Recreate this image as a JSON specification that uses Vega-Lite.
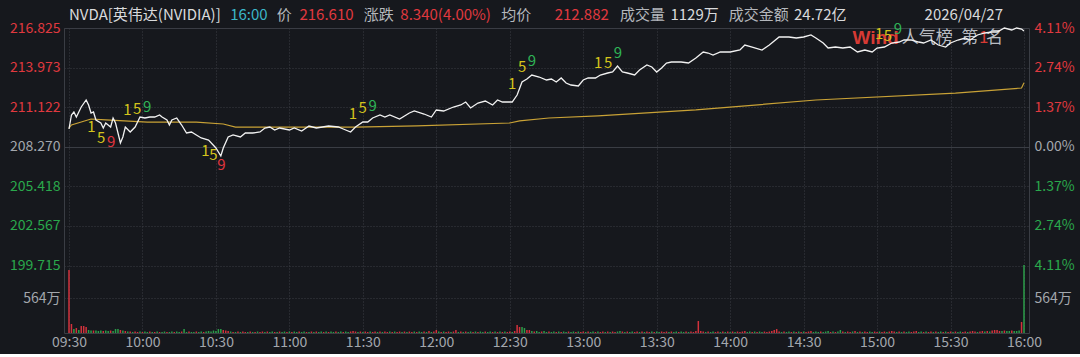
{
"$schema": "https://vega.github.io/schema/vega-lite/v6.json",
"width": 965,
"height": 305,
"padding": {"left": 9, "top": 8, "right": 5, "bottom": 5},
"background": "#16181d",
"config": {
  "view": {"stroke": "#3a3d44", "strokeWidth": 1},
  "axis": {"domain": false, "ticks": false, "labelFont": "Noto Sans CJK SC", "title": null},
  "text": {"font": "Noto Sans CJK SC"}
},
"encoding": {
  "x": {"field": "t", "type": "temporal",
    "scale": {"domain": [{"year": 2026, "month": 4, "date": 27, "hours": 9, "minutes": 30}, {"year": 2026, "month": 4, "date": 27, "hours": 16, "minutes": 0}]},
    "axis": {"format": "%H:%M", "tickCount": 13, "grid": true, "gridDash": [1, 2], "gridColor": "#3a3d44", "labelColor": "#a3a7ad", "labelFontSize": 14, "labelPadding": 2, "labelFlush": false, "labelOverlap": false}}
},
"layer": [
  {
    "data": {"values": [
{"t":"2026-04-27T09:30","v":1015,"d":"u"},{"t":"2026-04-27T09:31","v":145,"d":"u"},{"t":"2026-04-27T09:32","v":64,"d":"d"},{"t":"2026-04-27T09:33","v":80,"d":"u"},{"t":"2026-04-27T09:34","v":48,"d":"d"},{"t":"2026-04-27T09:35","v":113,"d":"u"},{"t":"2026-04-27T09:36","v":113,"d":"u"},{"t":"2026-04-27T09:37","v":97,"d":"u"},{"t":"2026-04-27T09:38","v":48,"d":"d"},{"t":"2026-04-27T09:39","v":40,"d":"d"},
{"t":"2026-04-27T09:40","v":40,"d":"u"},{"t":"2026-04-27T09:41","v":40,"d":"d"},{"t":"2026-04-27T09:42","v":32,"d":"d"},{"t":"2026-04-27T09:43","v":40,"d":"d"},{"t":"2026-04-27T09:44","v":32,"d":"u"},{"t":"2026-04-27T09:45","v":40,"d":"d"},{"t":"2026-04-27T09:46","v":32,"d":"d"},{"t":"2026-04-27T09:47","v":40,"d":"u"},{"t":"2026-04-27T09:48","v":32,"d":"d"},{"t":"2026-04-27T09:49","v":64,"d":"d"},
{"t":"2026-04-27T09:50","v":64,"d":"d"},{"t":"2026-04-27T09:51","v":48,"d":"u"},{"t":"2026-04-27T09:52","v":40,"d":"d"},{"t":"2026-04-27T09:53","v":32,"d":"u"},{"t":"2026-04-27T09:54","v":24,"d":"d"},{"t":"2026-04-27T09:55","v":24,"d":"u"},{"t":"2026-04-27T09:56","v":16,"d":"d"},{"t":"2026-04-27T09:57","v":24,"d":"u"},{"t":"2026-04-27T09:58","v":16,"d":"u"},{"t":"2026-04-27T09:59","v":24,"d":"d"},
{"t":"2026-04-27T10:00","v":16,"d":"u"},{"t":"2026-04-27T10:01","v":24,"d":"d"},{"t":"2026-04-27T10:02","v":16,"d":"d"},{"t":"2026-04-27T10:03","v":24,"d":"u"},{"t":"2026-04-27T10:04","v":16,"d":"d"},{"t":"2026-04-27T10:05","v":16,"d":"u"},{"t":"2026-04-27T10:06","v":24,"d":"d"},{"t":"2026-04-27T10:07","v":16,"d":"u"},{"t":"2026-04-27T10:08","v":16,"d":"d"},{"t":"2026-04-27T10:09","v":24,"d":"d"},
{"t":"2026-04-27T10:10","v":16,"d":"u"},{"t":"2026-04-27T10:11","v":16,"d":"d"},{"t":"2026-04-27T10:12","v":24,"d":"d"},{"t":"2026-04-27T10:13","v":16,"d":"u"},{"t":"2026-04-27T10:14","v":24,"d":"d"},{"t":"2026-04-27T10:15","v":16,"d":"d"},{"t":"2026-04-27T10:16","v":24,"d":"u"},{"t":"2026-04-27T10:17","v":64,"d":"d"},{"t":"2026-04-27T10:18","v":16,"d":"d"},{"t":"2026-04-27T10:19","v":24,"d":"u"},
{"t":"2026-04-27T10:20","v":16,"d":"d"},{"t":"2026-04-27T10:21","v":16,"d":"d"},{"t":"2026-04-27T10:22","v":24,"d":"u"},{"t":"2026-04-27T10:23","v":16,"d":"d"},{"t":"2026-04-27T10:24","v":24,"d":"d"},{"t":"2026-04-27T10:25","v":16,"d":"u"},{"t":"2026-04-27T10:26","v":24,"d":"d"},{"t":"2026-04-27T10:27","v":32,"d":"d"},{"t":"2026-04-27T10:28","v":24,"d":"d"},{"t":"2026-04-27T10:29","v":40,"d":"d"},
{"t":"2026-04-27T10:30","v":32,"d":"d"},{"t":"2026-04-27T10:31","v":64,"d":"d"},{"t":"2026-04-27T10:32","v":64,"d":"d"},{"t":"2026-04-27T10:33","v":48,"d":"u"},{"t":"2026-04-27T10:34","v":40,"d":"u"},{"t":"2026-04-27T10:35","v":32,"d":"u"},{"t":"2026-04-27T10:36","v":24,"d":"d"},{"t":"2026-04-27T10:37","v":16,"d":"u"},{"t":"2026-04-27T10:38","v":16,"d":"d"},{"t":"2026-04-27T10:39","v":24,"d":"u"},
{"t":"2026-04-27T10:40","v":16,"d":"d"},{"t":"2026-04-27T10:41","v":24,"d":"u"},{"t":"2026-04-27T10:42","v":16,"d":"u"},{"t":"2026-04-27T10:43","v":16,"d":"d"},{"t":"2026-04-27T10:44","v":24,"d":"u"},{"t":"2026-04-27T10:45","v":16,"d":"d"},{"t":"2026-04-27T10:46","v":16,"d":"u"},{"t":"2026-04-27T10:47","v":24,"d":"d"},{"t":"2026-04-27T10:48","v":16,"d":"u"},{"t":"2026-04-27T10:49","v":24,"d":"u"},
{"t":"2026-04-27T10:50","v":16,"d":"d"},{"t":"2026-04-27T10:51","v":24,"d":"u"},{"t":"2026-04-27T10:52","v":16,"d":"d"},{"t":"2026-04-27T10:53","v":24,"d":"d"},{"t":"2026-04-27T10:54","v":16,"d":"u"},{"t":"2026-04-27T10:55","v":16,"d":"d"},{"t":"2026-04-27T10:56","v":24,"d":"u"},{"t":"2026-04-27T10:57","v":16,"d":"d"},{"t":"2026-04-27T10:58","v":24,"d":"d"},{"t":"2026-04-27T10:59","v":16,"d":"u"},
{"t":"2026-04-27T11:00","v":24,"d":"d"},{"t":"2026-04-27T11:01","v":16,"d":"u"},{"t":"2026-04-27T11:02","v":24,"d":"d"},{"t":"2026-04-27T11:03","v":16,"d":"d"},{"t":"2026-04-27T11:04","v":24,"d":"u"},{"t":"2026-04-27T11:05","v":16,"d":"d"},{"t":"2026-04-27T11:06","v":24,"d":"d"},{"t":"2026-04-27T11:07","v":16,"d":"u"},{"t":"2026-04-27T11:08","v":16,"d":"d"},{"t":"2026-04-27T11:09","v":24,"d":"u"},
{"t":"2026-04-27T11:10","v":16,"d":"d"},{"t":"2026-04-27T11:11","v":24,"d":"u"},{"t":"2026-04-27T11:12","v":16,"d":"d"},{"t":"2026-04-27T11:13","v":24,"d":"d"},{"t":"2026-04-27T11:14","v":16,"d":"u"},{"t":"2026-04-27T11:15","v":24,"d":"d"},{"t":"2026-04-27T11:16","v":16,"d":"u"},{"t":"2026-04-27T11:17","v":24,"d":"d"},{"t":"2026-04-27T11:18","v":16,"d":"d"},{"t":"2026-04-27T11:19","v":24,"d":"u"},
{"t":"2026-04-27T11:20","v":16,"d":"d"},{"t":"2026-04-27T11:21","v":24,"d":"d"},{"t":"2026-04-27T11:22","v":16,"d":"u"},{"t":"2026-04-27T11:23","v":24,"d":"d"},{"t":"2026-04-27T11:24","v":16,"d":"d"},{"t":"2026-04-27T11:25","v":24,"d":"u"},{"t":"2026-04-27T11:26","v":32,"d":"u"},{"t":"2026-04-27T11:27","v":24,"d":"u"},{"t":"2026-04-27T11:28","v":16,"d":"d"},{"t":"2026-04-27T11:29","v":24,"d":"u"},
{"t":"2026-04-27T11:30","v":16,"d":"d"},{"t":"2026-04-27T11:31","v":24,"d":"u"},{"t":"2026-04-27T11:32","v":16,"d":"u"},{"t":"2026-04-27T11:33","v":24,"d":"d"},{"t":"2026-04-27T11:34","v":16,"d":"u"},{"t":"2026-04-27T11:35","v":24,"d":"u"},{"t":"2026-04-27T11:36","v":16,"d":"d"},{"t":"2026-04-27T11:37","v":24,"d":"u"},{"t":"2026-04-27T11:38","v":16,"d":"d"},{"t":"2026-04-27T11:39","v":24,"d":"u"},
{"t":"2026-04-27T11:40","v":16,"d":"u"},{"t":"2026-04-27T11:41","v":24,"d":"d"},{"t":"2026-04-27T11:42","v":16,"d":"u"},{"t":"2026-04-27T11:43","v":24,"d":"d"},{"t":"2026-04-27T11:44","v":16,"d":"u"},{"t":"2026-04-27T11:45","v":24,"d":"u"},{"t":"2026-04-27T11:46","v":16,"d":"d"},{"t":"2026-04-27T11:47","v":24,"d":"u"},{"t":"2026-04-27T11:48","v":16,"d":"d"},{"t":"2026-04-27T11:49","v":24,"d":"u"},
{"t":"2026-04-27T11:50","v":16,"d":"u"},{"t":"2026-04-27T11:51","v":24,"d":"d"},{"t":"2026-04-27T11:52","v":16,"d":"u"},{"t":"2026-04-27T11:53","v":24,"d":"d"},{"t":"2026-04-27T11:54","v":16,"d":"d"},{"t":"2026-04-27T11:55","v":24,"d":"u"},{"t":"2026-04-27T11:56","v":16,"d":"d"},{"t":"2026-04-27T11:57","v":32,"d":"u"},{"t":"2026-04-27T11:58","v":16,"d":"d"},{"t":"2026-04-27T11:59","v":24,"d":"u"},
{"t":"2026-04-27T12:00","v":48,"d":"u"},{"t":"2026-04-27T12:01","v":24,"d":"d"},{"t":"2026-04-27T12:02","v":16,"d":"u"},{"t":"2026-04-27T12:03","v":24,"d":"d"},{"t":"2026-04-27T12:04","v":16,"d":"u"},{"t":"2026-04-27T12:05","v":24,"d":"u"},{"t":"2026-04-27T12:06","v":16,"d":"d"},{"t":"2026-04-27T12:07","v":24,"d":"u"},{"t":"2026-04-27T12:08","v":48,"d":"u"},{"t":"2026-04-27T12:09","v":16,"d":"d"},
{"t":"2026-04-27T12:10","v":24,"d":"u"},{"t":"2026-04-27T12:11","v":16,"d":"d"},{"t":"2026-04-27T12:12","v":24,"d":"u"},{"t":"2026-04-27T12:13","v":16,"d":"d"},{"t":"2026-04-27T12:14","v":24,"d":"d"},{"t":"2026-04-27T12:15","v":16,"d":"u"},{"t":"2026-04-27T12:16","v":24,"d":"d"},{"t":"2026-04-27T12:17","v":16,"d":"u"},{"t":"2026-04-27T12:18","v":24,"d":"d"},{"t":"2026-04-27T12:19","v":16,"d":"d"},
{"t":"2026-04-27T12:20","v":24,"d":"u"},{"t":"2026-04-27T12:21","v":16,"d":"d"},{"t":"2026-04-27T12:22","v":24,"d":"d"},{"t":"2026-04-27T12:23","v":16,"d":"u"},{"t":"2026-04-27T12:24","v":24,"d":"d"},{"t":"2026-04-27T12:25","v":16,"d":"u"},{"t":"2026-04-27T12:26","v":24,"d":"d"},{"t":"2026-04-27T12:27","v":16,"d":"u"},{"t":"2026-04-27T12:28","v":24,"d":"d"},{"t":"2026-04-27T12:29","v":16,"d":"u"},
{"t":"2026-04-27T12:30","v":24,"d":"u"},{"t":"2026-04-27T12:31","v":16,"d":"d"},{"t":"2026-04-27T12:32","v":32,"d":"u"},{"t":"2026-04-27T12:33","v":129,"d":"u"},{"t":"2026-04-27T12:34","v":97,"d":"u"},{"t":"2026-04-27T12:35","v":97,"d":"d"},{"t":"2026-04-27T12:36","v":80,"d":"d"},{"t":"2026-04-27T12:37","v":48,"d":"u"},{"t":"2026-04-27T12:38","v":48,"d":"u"},{"t":"2026-04-27T12:39","v":32,"d":"d"},
{"t":"2026-04-27T12:40","v":24,"d":"u"},{"t":"2026-04-27T12:41","v":32,"d":"d"},{"t":"2026-04-27T12:42","v":16,"d":"d"},{"t":"2026-04-27T12:43","v":24,"d":"u"},{"t":"2026-04-27T12:44","v":32,"d":"d"},{"t":"2026-04-27T12:45","v":16,"d":"d"},{"t":"2026-04-27T12:46","v":24,"d":"u"},{"t":"2026-04-27T12:47","v":16,"d":"d"},{"t":"2026-04-27T12:48","v":24,"d":"d"},{"t":"2026-04-27T12:49","v":16,"d":"u"},
{"t":"2026-04-27T12:50","v":24,"d":"d"},{"t":"2026-04-27T12:51","v":16,"d":"u"},{"t":"2026-04-27T12:52","v":24,"d":"d"},{"t":"2026-04-27T12:53","v":16,"d":"d"},{"t":"2026-04-27T12:54","v":24,"d":"u"},{"t":"2026-04-27T12:55","v":16,"d":"d"},{"t":"2026-04-27T12:56","v":24,"d":"d"},{"t":"2026-04-27T12:57","v":16,"d":"u"},{"t":"2026-04-27T12:58","v":24,"d":"d"},{"t":"2026-04-27T12:59","v":16,"d":"u"},
{"t":"2026-04-27T13:00","v":24,"d":"u"},{"t":"2026-04-27T13:01","v":16,"d":"d"},{"t":"2026-04-27T13:02","v":24,"d":"u"},{"t":"2026-04-27T13:03","v":16,"d":"d"},{"t":"2026-04-27T13:04","v":24,"d":"d"},{"t":"2026-04-27T13:05","v":16,"d":"u"},{"t":"2026-04-27T13:06","v":24,"d":"d"},{"t":"2026-04-27T13:07","v":16,"d":"u"},{"t":"2026-04-27T13:08","v":24,"d":"u"},{"t":"2026-04-27T13:09","v":16,"d":"d"},
{"t":"2026-04-27T13:10","v":24,"d":"u"},{"t":"2026-04-27T13:11","v":16,"d":"d"},{"t":"2026-04-27T13:12","v":24,"d":"u"},{"t":"2026-04-27T13:13","v":16,"d":"u"},{"t":"2026-04-27T13:14","v":24,"d":"d"},{"t":"2026-04-27T13:15","v":32,"d":"d"},{"t":"2026-04-27T13:16","v":24,"d":"u"},{"t":"2026-04-27T13:17","v":16,"d":"d"},{"t":"2026-04-27T13:18","v":24,"d":"u"},{"t":"2026-04-27T13:19","v":16,"d":"d"},
{"t":"2026-04-27T13:20","v":24,"d":"d"},{"t":"2026-04-27T13:21","v":16,"d":"u"},{"t":"2026-04-27T13:22","v":24,"d":"u"},{"t":"2026-04-27T13:23","v":16,"d":"d"},{"t":"2026-04-27T13:24","v":24,"d":"u"},{"t":"2026-04-27T13:25","v":16,"d":"d"},{"t":"2026-04-27T13:26","v":24,"d":"u"},{"t":"2026-04-27T13:27","v":16,"d":"u"},{"t":"2026-04-27T13:28","v":24,"d":"d"},{"t":"2026-04-27T13:29","v":16,"d":"u"},
{"t":"2026-04-27T13:30","v":24,"d":"d"},{"t":"2026-04-27T13:31","v":16,"d":"d"},{"t":"2026-04-27T13:32","v":24,"d":"u"},{"t":"2026-04-27T13:33","v":16,"d":"u"},{"t":"2026-04-27T13:34","v":24,"d":"u"},{"t":"2026-04-27T13:35","v":16,"d":"d"},{"t":"2026-04-27T13:36","v":24,"d":"u"},{"t":"2026-04-27T13:37","v":16,"d":"d"},{"t":"2026-04-27T13:38","v":24,"d":"d"},{"t":"2026-04-27T13:39","v":16,"d":"u"},
{"t":"2026-04-27T13:40","v":24,"d":"d"},{"t":"2026-04-27T13:41","v":16,"d":"d"},{"t":"2026-04-27T13:42","v":24,"d":"u"},{"t":"2026-04-27T13:43","v":16,"d":"d"},{"t":"2026-04-27T13:44","v":24,"d":"u"},{"t":"2026-04-27T13:45","v":16,"d":"u"},{"t":"2026-04-27T13:46","v":32,"d":"u"},{"t":"2026-04-27T13:47","v":193,"d":"u"},{"t":"2026-04-27T13:48","v":32,"d":"u"},{"t":"2026-04-27T13:49","v":24,"d":"u"},
{"t":"2026-04-27T13:50","v":16,"d":"d"},{"t":"2026-04-27T13:51","v":24,"d":"u"},{"t":"2026-04-27T13:52","v":16,"d":"d"},{"t":"2026-04-27T13:53","v":24,"d":"d"},{"t":"2026-04-27T13:54","v":16,"d":"u"},{"t":"2026-04-27T13:55","v":24,"d":"u"},{"t":"2026-04-27T13:56","v":16,"d":"d"},{"t":"2026-04-27T13:57","v":24,"d":"u"},{"t":"2026-04-27T13:58","v":16,"d":"d"},{"t":"2026-04-27T13:59","v":24,"d":"u"},
{"t":"2026-04-27T14:00","v":16,"d":"d"},{"t":"2026-04-27T14:01","v":24,"d":"u"},{"t":"2026-04-27T14:02","v":16,"d":"d"},{"t":"2026-04-27T14:03","v":24,"d":"u"},{"t":"2026-04-27T14:04","v":16,"d":"u"},{"t":"2026-04-27T14:05","v":24,"d":"u"},{"t":"2026-04-27T14:06","v":32,"d":"u"},{"t":"2026-04-27T14:07","v":16,"d":"d"},{"t":"2026-04-27T14:08","v":24,"d":"d"},{"t":"2026-04-27T14:09","v":16,"d":"u"},
{"t":"2026-04-27T14:10","v":24,"d":"d"},{"t":"2026-04-27T14:11","v":16,"d":"u"},{"t":"2026-04-27T14:12","v":24,"d":"d"},{"t":"2026-04-27T14:13","v":16,"d":"d"},{"t":"2026-04-27T14:14","v":24,"d":"u"},{"t":"2026-04-27T14:15","v":16,"d":"u"},{"t":"2026-04-27T14:16","v":24,"d":"u"},{"t":"2026-04-27T14:17","v":32,"d":"u"},{"t":"2026-04-27T14:18","v":48,"d":"u"},{"t":"2026-04-27T14:19","v":64,"d":"u"},
{"t":"2026-04-27T14:20","v":24,"d":"u"},{"t":"2026-04-27T14:21","v":16,"d":"d"},{"t":"2026-04-27T14:22","v":24,"d":"u"},{"t":"2026-04-27T14:23","v":16,"d":"d"},{"t":"2026-04-27T14:24","v":24,"d":"d"},{"t":"2026-04-27T14:25","v":16,"d":"u"},{"t":"2026-04-27T14:26","v":24,"d":"d"},{"t":"2026-04-27T14:27","v":16,"d":"u"},{"t":"2026-04-27T14:28","v":24,"d":"d"},{"t":"2026-04-27T14:29","v":16,"d":"u"},
{"t":"2026-04-27T14:30","v":24,"d":"d"},{"t":"2026-04-27T14:31","v":16,"d":"u"},{"t":"2026-04-27T14:32","v":24,"d":"u"},{"t":"2026-04-27T14:33","v":32,"d":"u"},{"t":"2026-04-27T14:34","v":16,"d":"d"},{"t":"2026-04-27T14:35","v":24,"d":"d"},{"t":"2026-04-27T14:36","v":16,"d":"d"},{"t":"2026-04-27T14:37","v":24,"d":"u"},{"t":"2026-04-27T14:38","v":16,"d":"d"},{"t":"2026-04-27T14:39","v":24,"d":"d"},
{"t":"2026-04-27T14:40","v":32,"d":"d"},{"t":"2026-04-27T14:41","v":16,"d":"u"},{"t":"2026-04-27T14:42","v":24,"d":"d"},{"t":"2026-04-27T14:43","v":16,"d":"u"},{"t":"2026-04-27T14:44","v":24,"d":"d"},{"t":"2026-04-27T14:45","v":48,"d":"d"},{"t":"2026-04-27T14:46","v":24,"d":"u"},{"t":"2026-04-27T14:47","v":16,"d":"d"},{"t":"2026-04-27T14:48","v":24,"d":"u"},{"t":"2026-04-27T14:49","v":16,"d":"u"},
{"t":"2026-04-27T14:50","v":24,"d":"d"},{"t":"2026-04-27T14:51","v":32,"d":"u"},{"t":"2026-04-27T14:52","v":16,"d":"d"},{"t":"2026-04-27T14:53","v":24,"d":"u"},{"t":"2026-04-27T14:54","v":16,"d":"d"},{"t":"2026-04-27T14:55","v":24,"d":"u"},{"t":"2026-04-27T14:56","v":16,"d":"u"},{"t":"2026-04-27T14:57","v":24,"d":"d"},{"t":"2026-04-27T14:58","v":16,"d":"d"},{"t":"2026-04-27T14:59","v":24,"d":"u"},
{"t":"2026-04-27T15:00","v":16,"d":"u"},{"t":"2026-04-27T15:01","v":24,"d":"d"},{"t":"2026-04-27T15:02","v":16,"d":"u"},{"t":"2026-04-27T15:03","v":24,"d":"u"},{"t":"2026-04-27T15:04","v":16,"d":"d"},{"t":"2026-04-27T15:05","v":24,"d":"u"},{"t":"2026-04-27T15:06","v":32,"d":"u"},{"t":"2026-04-27T15:07","v":24,"d":"u"},{"t":"2026-04-27T15:08","v":16,"d":"d"},{"t":"2026-04-27T15:09","v":24,"d":"u"},
{"t":"2026-04-27T15:10","v":16,"d":"d"},{"t":"2026-04-27T15:11","v":24,"d":"u"},{"t":"2026-04-27T15:12","v":16,"d":"d"},{"t":"2026-04-27T15:13","v":24,"d":"d"},{"t":"2026-04-27T15:14","v":16,"d":"u"},{"t":"2026-04-27T15:15","v":24,"d":"u"},{"t":"2026-04-27T15:16","v":32,"d":"u"},{"t":"2026-04-27T15:17","v":16,"d":"d"},{"t":"2026-04-27T15:18","v":24,"d":"d"},{"t":"2026-04-27T15:19","v":16,"d":"u"},
{"t":"2026-04-27T15:20","v":24,"d":"d"},{"t":"2026-04-27T15:21","v":16,"d":"u"},{"t":"2026-04-27T15:22","v":24,"d":"u"},{"t":"2026-04-27T15:23","v":16,"d":"d"},{"t":"2026-04-27T15:24","v":24,"d":"u"},{"t":"2026-04-27T15:25","v":16,"d":"d"},{"t":"2026-04-27T15:26","v":24,"d":"d"},{"t":"2026-04-27T15:27","v":16,"d":"u"},{"t":"2026-04-27T15:28","v":24,"d":"d"},{"t":"2026-04-27T15:29","v":16,"d":"u"},
{"t":"2026-04-27T15:30","v":24,"d":"u"},{"t":"2026-04-27T15:31","v":16,"d":"d"},{"t":"2026-04-27T15:32","v":24,"d":"u"},{"t":"2026-04-27T15:33","v":16,"d":"d"},{"t":"2026-04-27T15:34","v":24,"d":"d"},{"t":"2026-04-27T15:35","v":16,"d":"u"},{"t":"2026-04-27T15:36","v":24,"d":"u"},{"t":"2026-04-27T15:37","v":16,"d":"d"},{"t":"2026-04-27T15:38","v":24,"d":"u"},{"t":"2026-04-27T15:39","v":32,"d":"u"},
{"t":"2026-04-27T15:40","v":24,"d":"u"},{"t":"2026-04-27T15:41","v":16,"d":"d"},{"t":"2026-04-27T15:42","v":24,"d":"u"},{"t":"2026-04-27T15:43","v":32,"d":"u"},{"t":"2026-04-27T15:44","v":24,"d":"d"},{"t":"2026-04-27T15:45","v":32,"d":"u"},{"t":"2026-04-27T15:46","v":24,"d":"d"},{"t":"2026-04-27T15:47","v":40,"d":"u"},{"t":"2026-04-27T15:48","v":48,"d":"u"},{"t":"2026-04-27T15:49","v":48,"d":"u"},
{"t":"2026-04-27T15:50","v":32,"d":"u"},{"t":"2026-04-27T15:51","v":32,"d":"d"},{"t":"2026-04-27T15:52","v":40,"d":"u"},{"t":"2026-04-27T15:53","v":32,"d":"d"},{"t":"2026-04-27T15:54","v":32,"d":"d"},{"t":"2026-04-27T15:55","v":40,"d":"u"},{"t":"2026-04-27T15:56","v":32,"d":"d"},{"t":"2026-04-27T15:57","v":32,"d":"d"},{"t":"2026-04-27T15:58","v":40,"d":"d"},{"t":"2026-04-27T15:59","v":177,"d":"u"},
{"t":"2026-04-27T16:00","v":1096,"d":"d"}
    ]},
    "mark": {"type": "bar", "width": 1.5},
    "encoding": {
      "y": {"field": "v", "type": "quantitative", "scale": {"domain": [0, 4915], "nice": false, "zero": true}, "axis": null},
      "color": {"field": "d", "type": "nominal", "scale": {"domain": ["u", "d"], "range": ["#d2323c", "#2c9e4a"]}, "legend": null}
    }
  },
  {
    "data": {"values": [
{"t":"2026-04-27T14:49:55","p":216.104,"s":"Wind"}
    ]},
    "mark": {"type": "text", "align": "left", "baseline": "middle", "fontSize": 19, "fontWeight": "bold", "color": "#d63a34", "font": "Liberation Sans"},
    "encoding": {
      "y": {"field": "p", "type": "quantitative", "scale": {"domain": [194.853, 216.825], "nice": false, "zero": false}, "axis": null},
      "text": {"field": "s"}
    }
  },
  {
    "data": {"values": [
{"t":"2026-04-27T15:10:06","p":216.104,"s":"人气榜","c":"g"},{"t":"2026-04-27T15:34:22","p":216.104,"s":"第","c":"g"},{"t":"2026-04-27T15:41:38","p":216.104,"s":"1","c":"r"},{"t":"2026-04-27T15:44:28","p":216.104,"s":"名","c":"g"}
    ]},
    "mark": {"type": "text", "align": "left", "baseline": "middle", "fontSize": 17},
    "encoding": {
      "y": {"field": "p", "type": "quantitative", "scale": {"domain": [194.853, 216.825], "nice": false, "zero": false}, "axis": null},
      "text": {"field": "s"},
      "color": {"field": "c", "type": "nominal", "scale": {"domain": ["r", "g"], "range": ["#d63a34", "#b9bcc2"]}, "legend": null}
    }
  },
  {
    "data": {"values": [
{"t":"2026-04-27T09:30","p":209.62},{"t":"2026-04-27T09:31","p":209.84},{"t":"2026-04-27T09:39","p":210.27},{"t":"2026-04-27T09:45","p":210.20},{"t":"2026-04-27T10:02","p":210.05},{"t":"2026-04-27T10:22","p":210.05},{"t":"2026-04-27T10:33","p":209.91},{"t":"2026-04-27T10:38","p":209.69},{"t":"2026-04-27T11:05","p":209.69},{"t":"2026-04-27T11:27","p":209.69},
{"t":"2026-04-27T11:52","p":209.77},{"t":"2026-04-27T12:30","p":209.98},{"t":"2026-04-27T12:34","p":210.13},{"t":"2026-04-27T12:46","p":210.34},{"t":"2026-04-27T13:06","p":210.49},{"t":"2026-04-27T13:46","p":210.92},{"t":"2026-04-27T14:35","p":211.64},{"t":"2026-04-27T15:32","p":212.14},{"t":"2026-04-27T15:59","p":212.50},{"t":"2026-04-27T16:00","p":212.882}
    ]},
    "mark": {"type": "line", "color": "#c9a236", "strokeWidth": 1.2},
    "encoding": {
      "y": {"field": "p", "type": "quantitative", "scale": {"domain": [194.853, 216.825], "nice": false, "zero": false},
        "axis": {"orient": "right", "values": [216.825, 213.973, 211.122, 208.27, 205.418, 202.567, 199.715, 197.374], "grid": false, "labelFontSize": 14, "labelPadding": 5,
          "labelExpr": "datum.value < 198 ? '564万' : format(abs(datum.value - 208.27) / 208.27 * 100, '.2f') + '%'",
          "labelColor": {"condition": [{"test": "datum.value > 208.3", "value": "#e0393f"}, {"test": "datum.value < 208.2 && datum.value > 199", "value": "#2aa84c"}], "value": "#a3a7ad"}}}
    }
  },
  {
    "data": {"values": [
{"t":"2026-04-27T09:30","p":209.549},{"t":"2026-04-27T09:31","p":210.557},{"t":"2026-04-27T09:32","p":210.774},{"t":"2026-04-27T09:33","p":210.413},{"t":"2026-04-27T09:35","p":211.134},{"t":"2026-04-27T09:37","p":211.638},{"t":"2026-04-27T09:38","p":211.278},{"t":"2026-04-27T09:39","p":210.701},{"t":"2026-04-27T09:40","p":210.774},{"t":"2026-04-27T09:41","p":210.197},
{"t":"2026-04-27T09:43","p":209.981},{"t":"2026-04-27T09:44","p":209.621},{"t":"2026-04-27T09:45","p":209.981},{"t":"2026-04-27T09:47","p":209.693},{"t":"2026-04-27T09:48","p":210.341},{"t":"2026-04-27T09:49","p":209.981},{"t":"2026-04-27T09:51","p":208.540},{"t":"2026-04-27T09:52","p":208.973},{"t":"2026-04-27T09:53","p":209.693},{"t":"2026-04-27T09:55","p":209.333},
{"t":"2026-04-27T09:57","p":209.693},{"t":"2026-04-27T09:59","p":210.413},{"t":"2026-04-27T10:01","p":210.341},{"t":"2026-04-27T10:03","p":210.413},{"t":"2026-04-27T10:05","p":210.413},{"t":"2026-04-27T10:07","p":210.557},{"t":"2026-04-27T10:08","p":210.413},{"t":"2026-04-27T10:10","p":210.197},{"t":"2026-04-27T10:11","p":209.837},{"t":"2026-04-27T10:12","p":210.197},
{"t":"2026-04-27T10:14","p":210.341},{"t":"2026-04-27T10:16","p":209.837},{"t":"2026-04-27T10:18","p":209.261},{"t":"2026-04-27T10:20","p":209.333},{"t":"2026-04-27T10:22","p":209.117},{"t":"2026-04-27T10:24","p":208.901},{"t":"2026-04-27T10:27","p":208.756},{"t":"2026-04-27T10:30","p":208.180},{"t":"2026-04-27T10:32","p":207.604},{"t":"2026-04-27T10:33","p":208.180},
{"t":"2026-04-27T10:35","p":208.973},{"t":"2026-04-27T10:37","p":209.117},{"t":"2026-04-27T10:40","p":208.973},{"t":"2026-04-27T10:42","p":209.261},{"t":"2026-04-27T10:45","p":209.261},{"t":"2026-04-27T10:48","p":209.333},{"t":"2026-04-27T10:50","p":209.621},{"t":"2026-04-27T10:52","p":209.693},{"t":"2026-04-27T10:54","p":209.477},{"t":"2026-04-27T10:56","p":209.621},
{"t":"2026-04-27T11:00","p":209.477},{"t":"2026-04-27T11:02","p":209.621},{"t":"2026-04-27T11:05","p":209.405},{"t":"2026-04-27T11:08","p":209.765},{"t":"2026-04-27T11:11","p":209.621},{"t":"2026-04-27T11:16","p":209.765},{"t":"2026-04-27T11:20","p":209.693},{"t":"2026-04-27T11:22","p":209.549},{"t":"2026-04-27T11:25","p":209.333},{"t":"2026-04-27T11:27","p":209.693},
{"t":"2026-04-27T11:30","p":210.053},{"t":"2026-04-27T11:32","p":210.053},{"t":"2026-04-27T11:34","p":210.341},{"t":"2026-04-27T11:37","p":210.557},{"t":"2026-04-27T11:39","p":210.413},{"t":"2026-04-27T11:41","p":210.557},{"t":"2026-04-27T11:45","p":210.269},{"t":"2026-04-27T11:49","p":210.701},{"t":"2026-04-27T11:51","p":210.846},{"t":"2026-04-27T11:55","p":210.629},
{"t":"2026-04-27T11:58","p":210.413},{"t":"2026-04-27T12:00","p":210.918},{"t":"2026-04-27T12:03","p":210.846},{"t":"2026-04-27T12:07","p":211.134},{"t":"2026-04-27T12:10","p":211.278},{"t":"2026-04-27T12:12","p":211.494},{"t":"2026-04-27T12:14","p":211.062},{"t":"2026-04-27T12:17","p":211.422},{"t":"2026-04-27T12:20","p":211.566},{"t":"2026-04-27T12:23","p":211.278},
{"t":"2026-04-27T12:25","p":211.638},{"t":"2026-04-27T12:27","p":211.494},{"t":"2026-04-27T12:31","p":211.494},{"t":"2026-04-27T12:33","p":211.998},{"t":"2026-04-27T12:35","p":212.935},{"t":"2026-04-27T12:37","p":213.151},{"t":"2026-04-27T12:39","p":213.439},{"t":"2026-04-27T12:42","p":213.295},{"t":"2026-04-27T12:45","p":213.079},{"t":"2026-04-27T12:47","p":213.151},
{"t":"2026-04-27T12:49","p":212.935},{"t":"2026-04-27T12:51","p":213.223},{"t":"2026-04-27T12:53","p":212.863},{"t":"2026-04-27T12:55","p":212.719},{"t":"2026-04-27T12:58","p":212.647},{"t":"2026-04-27T13:00","p":213.079},{"t":"2026-04-27T13:02","p":213.223},{"t":"2026-04-27T13:05","p":213.223},{"t":"2026-04-27T13:07","p":213.439},{"t":"2026-04-27T13:10","p":213.583},
{"t":"2026-04-27T13:12","p":213.655},{"t":"2026-04-27T13:14","p":214.087},{"t":"2026-04-27T13:16","p":213.655},{"t":"2026-04-27T13:18","p":213.583},{"t":"2026-04-27T13:21","p":213.439},{"t":"2026-04-27T13:23","p":213.799},{"t":"2026-04-27T13:26","p":214.159},{"t":"2026-04-27T13:28","p":214.015},{"t":"2026-04-27T13:30","p":213.655},{"t":"2026-04-27T13:32","p":213.943},
{"t":"2026-04-27T13:34","p":214.303},{"t":"2026-04-27T13:36","p":214.376},{"t":"2026-04-27T13:40","p":214.376},{"t":"2026-04-27T13:43","p":214.303},{"t":"2026-04-27T13:46","p":214.664},{"t":"2026-04-27T13:49","p":215.096},{"t":"2026-04-27T13:51","p":215.024},{"t":"2026-04-27T13:53","p":214.880},{"t":"2026-04-27T13:56","p":215.096},{"t":"2026-04-27T14:00","p":215.096},
{"t":"2026-04-27T14:04","p":215.240},{"t":"2026-04-27T14:06","p":215.600},{"t":"2026-04-27T14:09","p":215.456},{"t":"2026-04-27T14:13","p":215.240},{"t":"2026-04-27T14:16","p":215.600},{"t":"2026-04-27T14:20","p":216.177},{"t":"2026-04-27T14:24","p":216.177},{"t":"2026-04-27T14:27","p":216.104},{"t":"2026-04-27T14:30","p":216.177},{"t":"2026-04-27T14:33","p":216.321},
{"t":"2026-04-27T14:35","p":216.104},{"t":"2026-04-27T14:38","p":215.744},{"t":"2026-04-27T14:40","p":215.384},{"t":"2026-04-27T14:43","p":215.456},{"t":"2026-04-27T14:46","p":215.384},{"t":"2026-04-27T14:49","p":215.456},{"t":"2026-04-27T14:52","p":215.096},{"t":"2026-04-27T14:55","p":215.240},{"t":"2026-04-27T14:58","p":215.096},{"t":"2026-04-27T15:00","p":215.384},
{"t":"2026-04-27T15:03","p":215.456},{"t":"2026-04-27T15:06","p":215.744},{"t":"2026-04-27T15:09","p":215.816},{"t":"2026-04-27T15:11","p":215.960},{"t":"2026-04-27T15:14","p":215.960},{"t":"2026-04-27T15:17","p":215.816},{"t":"2026-04-27T15:19","p":215.744},{"t":"2026-04-27T15:22","p":215.960},{"t":"2026-04-27T15:25","p":215.600},{"t":"2026-04-27T15:28","p":215.456},
{"t":"2026-04-27T15:30","p":215.744},{"t":"2026-04-27T15:33","p":215.960},{"t":"2026-04-27T15:36","p":216.104},{"t":"2026-04-27T15:38","p":215.960},{"t":"2026-04-27T15:41","p":216.321},{"t":"2026-04-27T15:44","p":216.465},{"t":"2026-04-27T15:47","p":216.537},{"t":"2026-04-27T15:49","p":216.537},{"t":"2026-04-27T15:52","p":216.825},{"t":"2026-04-27T15:55","p":216.681},
{"t":"2026-04-27T15:57","p":216.825},{"t":"2026-04-27T15:59","p":216.753},{"t":"2026-04-27T16:00","p":216.610}
    ]},
    "mark": {"type": "line", "color": "#f2f2f2", "strokeWidth": 1.3},
    "encoding": {
      "y": {"field": "p", "type": "quantitative", "scale": {"domain": [194.853, 216.825], "nice": false, "zero": false},
        "axis": {"orient": "left", "values": [216.825, 213.973, 211.122, 208.27, 205.418, 202.567, 199.715, 197.374], "grid": true, "gridColor": "#3a3d44",
          "gridDash": {"condition": {"test": "abs(datum.value - 208.27) < 0.01", "value": []}, "value": [1, 2]},
          "labelFontSize": 14, "labelPadding": 4,
          "labelExpr": "datum.value < 198 ? '564万' : format(datum.value, '.3f')",
          "labelColor": {"condition": [{"test": "datum.value > 208.3", "value": "#e0393f"}, {"test": "datum.value < 208.2 && datum.value > 199", "value": "#2aa84c"}], "value": "#a3a7ad"}}}
    }
  },
  {
    "data": {"values": [
{"t":"2026-04-27T09:39:10","p":209.672,"s":"1","c":"y"},{"t":"2026-04-27T09:43:08","p":208.901,"s":"5","c":"y"},{"t":"2026-04-27T09:47:10","p":208.634,"s":"9","c":"r"},
{"t":"2026-04-27T09:53:50","p":210.918,"s":"1","c":"y"},{"t":"2026-04-27T09:57:52","p":211.011,"s":"5","c":"y"},{"t":"2026-04-27T10:01:55","p":211.155,"s":"9","c":"g"},
{"t":"2026-04-27T10:25:45","p":207.964,"s":"1","c":"y"},{"t":"2026-04-27T10:28:59","p":207.676,"s":"5","c":"y"},{"t":"2026-04-27T10:32:13","p":206.955,"s":"9","c":"r"},
{"t":"2026-04-27T11:25:56","p":210.629,"s":"1","c":"y"},{"t":"2026-04-27T11:29:58","p":211.062,"s":"5","c":"y"},{"t":"2026-04-27T11:34:01","p":211.206,"s":"9","c":"g"},
{"t":"2026-04-27T12:30:58","p":212.791,"s":"1","c":"y"},{"t":"2026-04-27T12:35:01","p":214.015,"s":"5","c":"y"},{"t":"2026-04-27T12:39:03","p":214.448,"s":"9","c":"g"},
{"t":"2026-04-27T13:06:07","p":214.304,"s":"1","c":"y"},{"t":"2026-04-27T13:10:09","p":214.304,"s":"5","c":"y"},{"t":"2026-04-27T13:14:11","p":215.024,"s":"9","c":"g"},
{"t":"2026-04-27T15:00:50","p":216.393,"s":"1","c":"y"},{"t":"2026-04-27T15:04:28","p":216.249,"s":"5","c":"y"},{"t":"2026-04-27T15:08:30","p":216.753,"s":"9","c":"g"}
    ]},
    "mark": {"type": "text", "align": "center", "baseline": "middle", "fontSize": 15},
    "encoding": {
      "y": {"field": "p", "type": "quantitative", "scale": {"domain": [194.853, 216.825], "nice": false, "zero": false}, "axis": null},
      "text": {"field": "s"},
      "color": {"field": "c", "type": "nominal", "scale": {"domain": ["y", "g", "r"], "range": ["#d4c41c", "#2fb457", "#e0353f"]}, "legend": null}
    }
  },
  {
    "data": {"values": [
{"t":"2026-04-27T09:30:00","p":217.726,"s":"NVDA[英伟达(NVIDIA)]","c":"name"},
{"t":"2026-04-27T10:35:50","p":217.726,"s":"16:00","c":"time"},
{"t":"2026-04-27T10:54:50","p":217.726,"s":"价","c":"key"},
{"t":"2026-04-27T11:04:07","p":217.726,"s":"216.610","c":"up"},
{"t":"2026-04-27T11:30:23","p":217.726,"s":"涨跌","c":"key"},
{"t":"2026-04-27T11:45:19","p":217.726,"s":"8.340(4.00%)","c":"up"},
{"t":"2026-04-27T12:26:32","p":217.726,"s":"均价","c":"key"},
{"t":"2026-04-27T12:48:20","p":217.726,"s":"212.882","c":"up"},
{"t":"2026-04-27T13:15:00","p":217.726,"s":"成交量","c":"key"},
{"t":"2026-04-27T13:35:36","p":217.726,"s":"1129万","c":"name"},
{"t":"2026-04-27T13:59:26","p":217.726,"s":"成交金额","c":"key"},
{"t":"2026-04-27T14:26:05","p":217.726,"s":"24.72亿","c":"name"},
{"t":"2026-04-27T15:19:25","p":217.726,"s":"2026/04/27","c":"name"}
    ]},
    "mark": {"type": "text", "align": "left", "baseline": "middle", "fontSize": 15},
    "encoding": {
      "y": {"field": "p", "type": "quantitative", "scale": {"domain": [194.853, 216.825], "nice": false, "zero": false}, "axis": null},
      "text": {"field": "s"},
      "color": {"field": "c", "type": "nominal", "scale": {"domain": ["name", "time", "key", "up"], "range": ["#d9dadc", "#3cb6c8", "#b4b7bc", "#e0393f"]}, "legend": null}
    }
  }
],
"resolve": {"scale": {"y": "independent", "color": "independent"}, "axis": {"y": "independent"}}
}
